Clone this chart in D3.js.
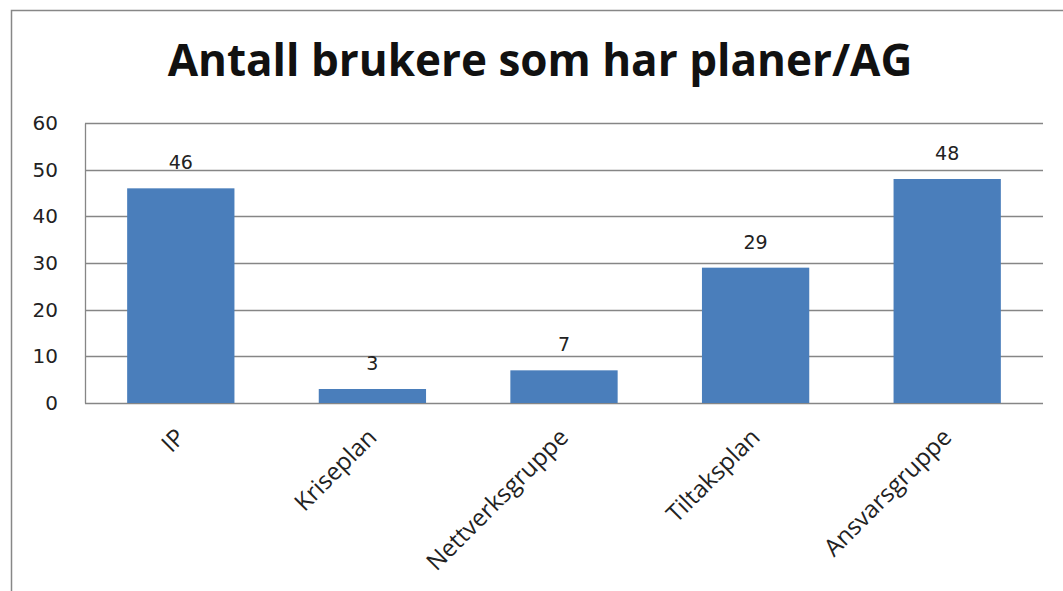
<!DOCTYPE html>
<html>
<head>
<meta charset="utf-8">
<script src="https://cdn.jsdelivr.net/npm/d3@7"></script>
<style>
  body { margin: 0; background: #fff; }
  svg { display: block; }
</style>
</head>
<body>
<svg id="chart"></svg>
<script>
var title = "Antall brukere som har planer/AG";
var categories = ["IP", "Kriseplan", "Nettverksgruppe", "Tiltaksplan", "Ansvarsgruppe"];
var values = [46, 3, 7, 29, 48];
var yTicks = [0, 10, 20, 30, 40, 50, 60];

var W = 1063, H = 591;
var margin = {top: 123, right: 20, bottom: 188, left: 85};
var width = W - margin.left - margin.right;
var height = H - margin.top - margin.bottom;

var svg = d3.select("#chart").attr("width", W).attr("height", H);

// outer chart frame
svg.append("rect")
    .attr("x", 11.5).attr("y", 10.5)
    .attr("width", W + 10).attr("height", H + 10)
    .attr("fill", "#fff")
    .attr("stroke", "#878787")
    .attr("stroke-width", 1.5);

// title, sized to match the original width
var t = svg.append("text")
    .attr("x", 540).attr("y", 76)
    .attr("text-anchor", "middle")
    .style("font-family", "'Open Sans', sans-serif")
    .style("font-weight", "bold")
    .style("font-size", "40px")
    .attr("fill", "#111")
    .text(title);
var tw = t.node().getComputedTextLength();
t.style("font-size", (40 * 745 / tw) + "px");

var x = d3.scaleBand()
    .domain(categories)
    .range([0, width])
    .paddingInner(0.44)
    .paddingOuter(0.22);

var y = d3.scaleLinear()
    .domain([0, 60])
    .range([height, 0]);

var chart = svg.append("g")
    .attr("transform", "translate(" + margin.left + "," + margin.top + ")");

// grid lines
chart.append("g")
    .selectAll("line")
    .data(yTicks)
    .enter().append("line")
      .attr("x1", 0).attr("x2", width)
      .attr("y1", function(d) { return Math.round(y(d)) + 0.5; })
      .attr("y2", function(d) { return Math.round(y(d)) + 0.5; })
      .attr("stroke", "#868686")
      .attr("stroke-width", 1.3);

// y axis
var yAxis = d3.axisLeft(y).tickValues(yTicks).tickSize(0).tickPadding(27);
chart.append("g")
    .attr("class", "y axis")
    .call(yAxis)
    .call(function(g) { g.select(".domain").attr("stroke", "#868686").attr("stroke-width", 1.3); })
    .selectAll("text")
      .style("font-family", "'DejaVu Sans', Verdana, sans-serif")
      .style("font-size", "20px")
      .attr("fill", "#222");

// bars
chart.selectAll(".bar")
    .data(values)
    .enter().append("rect")
      .attr("class", "bar")
      .attr("x", function(d, i) { return x(categories[i]); })
      .attr("y", function(d) { return y(d); })
      .attr("width", x.bandwidth())
      .attr("height", function(d) { return height - y(d); })
      .attr("fill", "#4a7ebb");

// value labels
chart.selectAll(".val")
    .data(values)
    .enter().append("text")
      .attr("class", "val")
      .attr("x", function(d, i) { return x(categories[i]) + x.bandwidth() / 2; })
      .attr("y", function(d) { return y(d) - 19; })
      .attr("text-anchor", "middle")
      .style("font-family", "'DejaVu Sans', Verdana, sans-serif")
      .style("font-size", "19px")
      .attr("fill", "#222")
      .text(function(d) { return d; });

// category labels, rotated
chart.selectAll(".cat")
    .data(categories)
    .enter().append("text")
      .attr("class", "cat")
      .attr("transform", function(d) {
          var cx = x(d) + x.bandwidth() / 2 - 7;
          return "translate(" + cx + "," + (height + 23) + ") rotate(-45)";
      })
      .attr("text-anchor", "end")
      .attr("dy", "0.75em")
      .style("font-family", "'Open Sans', sans-serif")
      .style("font-size", "24px")
      .attr("fill", "#222")
      .text(function(d) { return d; });
</script>
</body>
</html>
